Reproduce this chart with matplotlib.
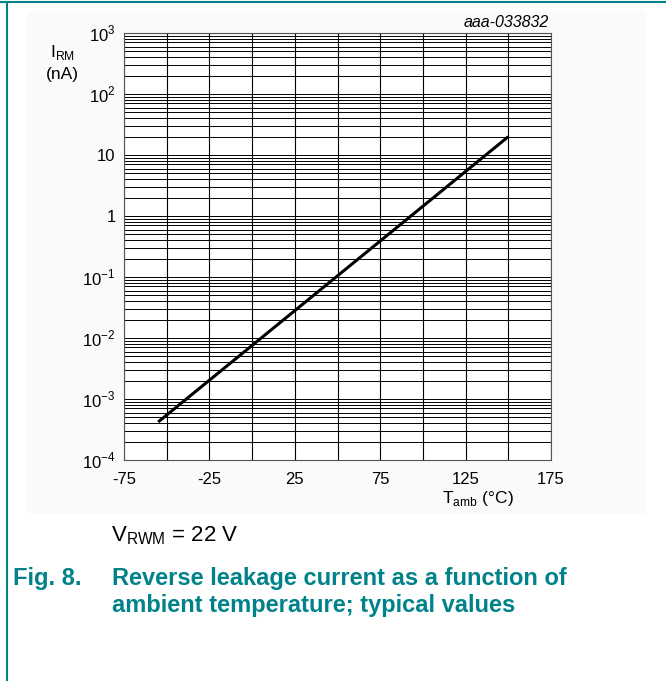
import matplotlib
matplotlib.use("Agg")
import matplotlib.pyplot as plt
from matplotlib.patches import Rectangle
from matplotlib.lines import Line2D

plt.rcParams["font.family"] = ["Liberation Sans", "DejaVu Sans"]
plt.rcParams["mathtext.fontset"] = "custom"
plt.rcParams["mathtext.rm"] = "Liberation Sans"

# data
t_amb = [-55, 150]            # °C
i_rm = [4.2e-4, 20.0]         # nA
x_ticks = [-75, -25, 25, 75, 125, 175]
x_grid = [-75, -50, -25, 0, 25, 50, 75, 100, 125, 150, 175]
y_ticks = [1e-4, 1e-3, 1e-2, 1e-1, 1, 10, 1e2, 1e3]
y_labels = ["10$^{\\mathregular{-4}}$", "10$^{\\mathregular{-3}}$", "10$^{\\mathregular{-2}}$",
            "10$^{\\mathregular{-1}}$", "1", "10", "10$^{\\mathregular{2}}$", "10$^{\\mathregular{3}}$"]

TEAL = "#00828a"

fig = plt.figure(figsize=(6.66, 6.81), dpi=100)
W, H = 666, 681

# light panel and teal frame
fig.patches.append(Rectangle((27 / W, 1 - 512 / H), 618 / W, 500 / H,
                             transform=fig.transFigure, color="#fafafa", zorder=-5))
fig.lines.append(Line2D([0, 1], [1 - 2 / H, 1 - 2 / H], transform=fig.transFigure,
                        color=TEAL, lw=1.5))
fig.lines.append(Line2D([7 / W, 7 / W], [0, 1 - 2 / H], transform=fig.transFigure,
                        color=TEAL, lw=1.5))

ax = fig.add_axes([124 / W, 1 - 460 / H, 427 / W, 427 / H])
ax.set_facecolor("white")
ax.set_yscale("log")
ax.set_xlim(-75, 175)
ax.set_ylim(1e-4, 1e3)

# grid: vertical every 25 °C, horizontal at every 1..9 x decade
for xv in x_grid:
    ax.axvline(xv, color="black", lw=0.8, zorder=1)
for d in range(-4, 3):
    for m in range(1, 10):
        ax.axhline(m * 10.0 ** d, color="black", lw=0.7, zorder=1)
ax.axhline(1e3, color="black", lw=0.8, zorder=1)

ax.plot(t_amb, i_rm, color="black", lw=2.2, zorder=3, solid_capstyle="butt")

ax.set_xticks(x_ticks)
ax.set_xticklabels([str(v) for v in x_ticks], fontsize=12)
ax.set_yticks(y_ticks)
ax.set_yticklabels(y_labels, fontsize=12)
ax.minorticks_off()
ax.tick_params(axis="y", length=0, pad=6)
ax.tick_params(axis="x", length=0, pad=9)
for s in ax.spines.values():
    s.set_color("#555555")
    s.set_linewidth(0.8)

fig.text(549 / W, 1 - 27 / H, "aaa-033832", ha="right", va="baseline",
         fontsize=11.5, style="italic")
fig.text(50 / W, 1 - 57 / H, "I$_{\\mathregular{RM}}$", ha="left", va="baseline", fontsize=12.5)
fig.text(62 / W, 1 - 79 / H, "(nA)", ha="center", va="baseline", fontsize=12.5)
fig.text(442 / W, 1 - 503 / H, "T$_{\\mathregular{amb}}$ (°C)", ha="left", va="baseline",
         fontsize=12.5)
fig.text(111 / W, 1 - 541 / H, "V$_{\\mathregular{RWM}}$ = 22 V", ha="left", va="baseline",
         fontsize=16)
fig.text(13 / W, 1 - 585 / H, "Fig. 8.", ha="left", va="baseline", fontsize=17,
         fontweight="bold", color=TEAL)
fig.text(112 / W, 1 - 585 / H, "Reverse leakage current as a function of", ha="left",
         va="baseline", fontsize=17, fontweight="bold", color=TEAL)
fig.text(112 / W, 1 - 612 / H, "ambient temperature; typical values", ha="left",
         va="baseline", fontsize=17, fontweight="bold", color=TEAL)

fig.savefig("out.png", dpi=100)
